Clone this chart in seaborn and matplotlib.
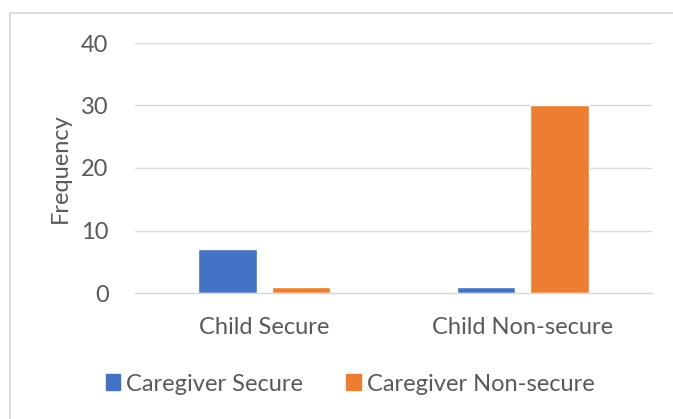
import matplotlib
matplotlib.use("Agg")
import matplotlib.pyplot as plt
import matplotlib.patches as mpatches
import matplotlib.lines as mlines
import seaborn as sns
import pandas as pd

# Attachment frequencies by child and caregiver classification
child_groups = ["Child Secure", "Child Non-secure"]
caregiver_groups = ["Caregiver Secure", "Caregiver Non-secure"]
secure_counts = [7, 1]
nonsecure_counts = [1, 30]
y_ticks = [0, 10, 20, 30, 40]

colors = ["#4472C4", "#ED7D31"]
text_color = "#595959"
grid_color = "#D9D9D9"
fs = 17

df = pd.DataFrame({
    "child": child_groups * 2,
    "caregiver": [caregiver_groups[0]] * 2 + [caregiver_groups[1]] * 2,
    "count": secure_counts + nonsecure_counts,
})

sns.set_theme(style="white")
plt.rcParams["font.family"] = ["Lato", "DejaVu Sans"]

fig = plt.figure(figsize=(6.73, 4.19), dpi=100)
ax = fig.add_axes([135 / 673, 1 - 293 / 419, (652 - 135) / 673, (293 - 43) / 419])

sns.barplot(data=df, x="child", y="count", hue="caregiver",
            hue_order=caregiver_groups, order=child_groups,
            palette=colors, width=0.566, gap=0.2, saturation=1,
            legend=False, ax=ax)

ax.set_ylim(0, 40)
ax.set_yticks(y_ticks)
ax.set_xlim(-0.5, 1.5)
ax.yaxis.grid(True, color=grid_color, linewidth=1)
ax.set_axisbelow(True)
for side in ["top", "right", "left"]:
    ax.spines[side].set_visible(False)
ax.spines["bottom"].set_color(grid_color)
ax.spines["bottom"].set_linewidth(1)
ax.tick_params(axis="both", length=0, colors=text_color, labelsize=fs)
ax.tick_params(axis="y", pad=19)
ax.tick_params(axis="x", pad=17)
ax.set_xlabel("")
ax.set_ylabel("Frequency", color=text_color, fontsize=fs, labelpad=7)

handles = [mpatches.Patch(color=c, label=l) for c, l in zip(colors, caregiver_groups)]
fig.legend(handles=handles, loc="center", bbox_to_anchor=(350 / 673, 1 - 384 / 419),
           ncol=2, frameon=False, fontsize=fs, labelcolor=text_color,
           handlelength=0.63, handleheight=0.63, handletextpad=0.25, columnspacing=1.8,
           borderpad=0, borderaxespad=0)

# chart area border (top and left edges visible)
bx, by = 9.5 / 673, 1 - 13.5 / 419
fig.lines.append(mlines.Line2D([bx, 1.01], [by, by], transform=fig.transFigure,
                               color=grid_color, linewidth=1.3))
fig.lines.append(mlines.Line2D([bx, bx], [by, -0.01], transform=fig.transFigure,
                               color=grid_color, linewidth=1.3))

fig.savefig("out.png", dpi=100)
